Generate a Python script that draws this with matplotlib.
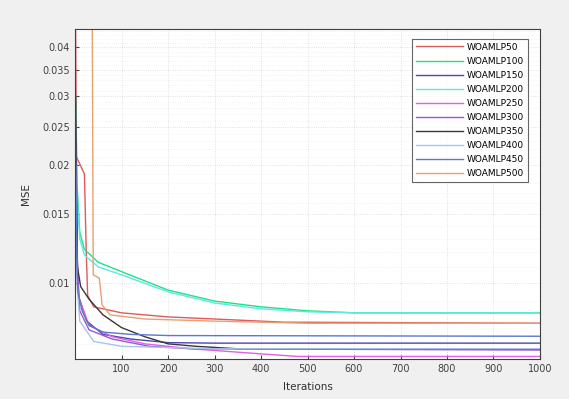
import numpy as np
import matplotlib.pyplot as plt
from matplotlib.ticker import FixedLocator, NullFormatter

# convergence curves (iteration, mse)
it_50 = [1, 3, 20, 24, 27, 40, 100, 200, 300, 450, 1000]
mse_50 = [0.045, 0.021, 0.019, 0.012, 0.0093, 0.0087, 0.0084, 0.0082, 0.0081, 0.00795, 0.0079]

it_100 = [1, 4, 10, 20, 50, 100, 200, 300, 400, 500, 600, 1000]
mse_100 = [0.030, 0.018, 0.0135, 0.0122, 0.0113, 0.0107, 0.0096, 0.0090, 0.0087, 0.0085, 0.0084, 0.0084]

it_150 = [1, 4, 8, 25, 60, 120, 200, 300, 1000]
mse_150 = [0.025, 0.012, 0.0092, 0.0080, 0.0074, 0.0072, 0.00705, 0.00703, 0.00703]

it_200 = [1, 4, 10, 20, 50, 100, 200, 300, 400, 500, 600, 1000]
mse_200 = [0.028, 0.017, 0.013, 0.0118, 0.0110, 0.0105, 0.0095, 0.0089, 0.0086, 0.00845, 0.0084, 0.0084]

it_250 = [1, 4, 8, 30, 80, 150, 250, 400, 480, 1000]
mse_250 = [0.026, 0.012, 0.0092, 0.0078, 0.0073, 0.0070, 0.0068, 0.0066, 0.0065, 0.0065]

it_300 = [1, 4, 10, 30, 80, 160, 250, 1000]
mse_300 = [0.020, 0.011, 0.0085, 0.0076, 0.0072, 0.0069, 0.0068, 0.00675]

it_350 = [1, 5, 12, 30, 60, 100, 150, 200, 260, 350, 1000]
mse_350 = [0.030, 0.011, 0.0098, 0.0091, 0.0083, 0.0077, 0.0073, 0.0070, 0.0069, 0.0068, 0.00678]

it_400 = [1, 4, 10, 40, 100, 300, 1000]
mse_400 = [0.020, 0.010, 0.0080, 0.0071, 0.0069, 0.0068, 0.0068]

it_450 = [1, 3, 6, 15, 30, 60, 120, 200, 1000]
mse_450 = [0.022, 0.012, 0.0095, 0.0085, 0.0078, 0.0075, 0.0074, 0.00735, 0.00732]

it_500 = [1, 37, 39, 52, 58, 75, 150, 300, 500, 1000]
mse_500 = [0.045, 0.045, 0.0105, 0.0103, 0.0088, 0.0083, 0.0081, 0.0080, 0.0079, 0.0079]

labels = ['WOAMLP50', 'WOAMLP100', 'WOAMLP150', 'WOAMLP200', 'WOAMLP250',
          'WOAMLP300', 'WOAMLP350', 'WOAMLP400', 'WOAMLP450', 'WOAMLP500']
colors = ['#e05a5a', '#1fe08a', '#4a44b0', '#5ee8e0', '#e060e0',
          '#9a55d8', '#383838', '#a8c4ea', '#5a78cc', '#e8a070']
series = [(it_50, mse_50), (it_100, mse_100), (it_150, mse_150), (it_200, mse_200),
          (it_250, mse_250), (it_300, mse_300), (it_350, mse_350), (it_400, mse_400),
          (it_450, mse_450), (it_500, mse_500)]

yticks = [0.01, 0.015, 0.02, 0.025, 0.03, 0.035, 0.04]
ytick_labels = ['0.01', '0.015', '0.02', '0.025', '0.03', '0.035', '0.04']
xticks = [100, 200, 300, 400, 500, 600, 700, 800, 900, 1000]

fig = plt.figure(figsize=(5.69, 3.99), dpi=100, facecolor='#f0f0f0')
ax = fig.add_axes([0.132, 0.100, 0.817, 0.827])
ax.set_facecolor('white')

for (x, y), lab, c in zip(series, labels, colors):
    ax.plot(x, y, color=c, lw=1.0, label=lab)

ax.set_yscale('log')
ax.set_xlim(0, 1000)
ax.set_ylim(0.0064, 0.0445)
ax.yaxis.set_major_locator(FixedLocator(yticks))
ax.set_yticklabels(ytick_labels)
ax.yaxis.set_minor_locator(FixedLocator(np.arange(0.007, 0.045, 0.001)))
ax.yaxis.set_minor_formatter(NullFormatter())
ax.set_xticks(xticks)

ax.grid(True, which='major', color='#d8d8d8', lw=0.6, ls=':')
ax.grid(True, which='minor', axis='y', color='#ececec', lw=0.5, ls=':')
ax.tick_params(which='both', direction='in', labelsize=7, colors='#404040', length=3)
ax.tick_params(which='minor', length=0)
for s in ax.spines.values():
    s.set_color('#404040')
    s.set_linewidth(0.8)

ax.set_xlabel('Iterations', fontsize=7.5, color='#303030', labelpad=6)
ax.set_ylabel('MSE', fontsize=7.5, color='#303030', labelpad=8)

leg = ax.legend(loc='upper right', fontsize=6.5, handlelength=5.2, labelspacing=0.56,
                borderpad=0.45, handletextpad=0.5, bbox_to_anchor=(0.985, 0.985),
                fancybox=False)
leg.get_frame().set_edgecolor('#404040')
leg.get_frame().set_linewidth(0.8)

fig.savefig('out.png', dpi=100, facecolor=fig.get_facecolor())
